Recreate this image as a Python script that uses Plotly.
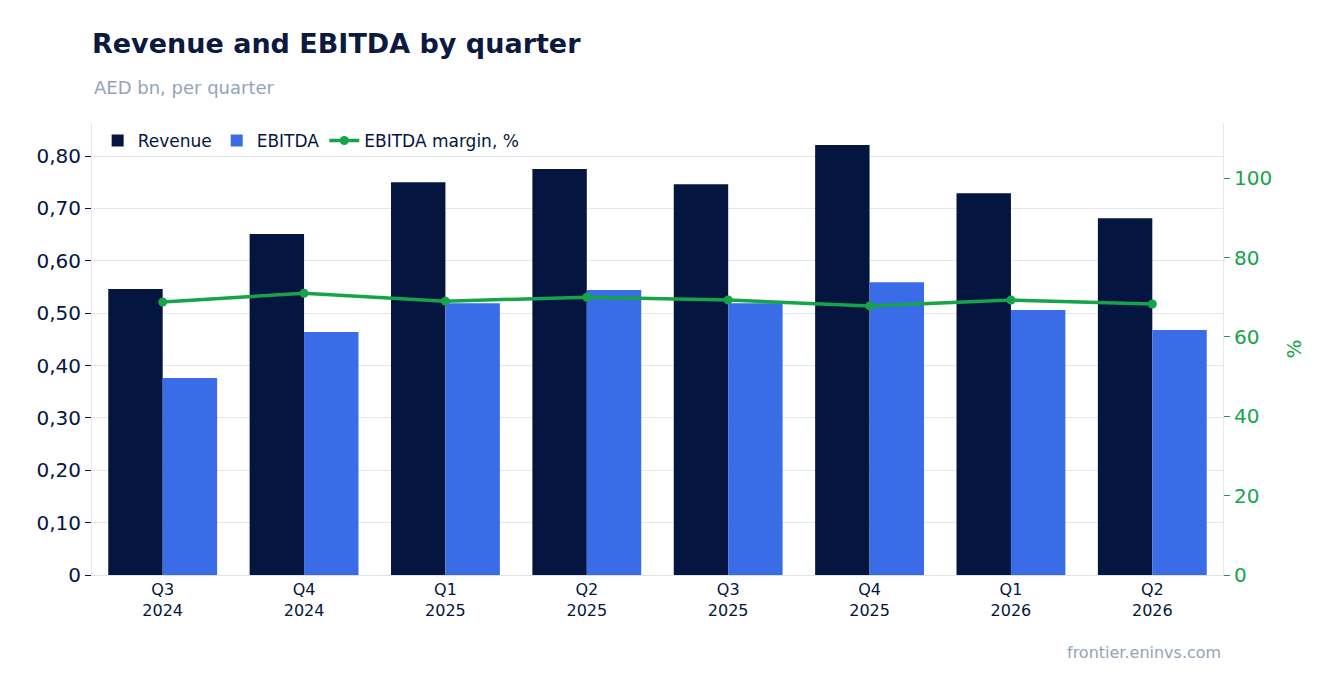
import plotly.graph_objects as go

quarters = ["Q3<br>2024","Q4<br>2024","Q1<br>2025","Q2<br>2025","Q3<br>2025","Q4<br>2025","Q1<br>2026","Q2<br>2026"]
revenue = [0.546,0.651,0.750,0.775,0.746,0.821,0.729,0.681]
ebitda = [0.376,0.464,0.519,0.544,0.519,0.559,0.506,0.468]
margin = [68.8,71.0,69.0,70.0,69.3,67.8,69.3,68.3]
ltick = [0,0.1,0.2,0.3,0.4,0.5,0.6,0.7,0.8]
ltext = ["0"] + [f"{v:.2f}".replace(".", ",") for v in ltick[1:]]

L, R, T, B = 84, 121, 115, 126
H = 693 - T - B

fig = go.Figure()
fig.add_bar(x=quarters, y=revenue, name="Revenue", marker_color="#04163f", marker_line_width=0)
fig.add_bar(x=quarters, y=ebitda, name="EBITDA", marker_color="#3a6ce8", marker_line_width=0)
fig.add_scatter(x=quarters, y=margin, name="EBITDA margin, %", yaxis="y2", mode="lines+markers",
                line=dict(color="#16a34a", width=3.5), marker=dict(size=9, color="#16a34a"))
fig.update_layout(
    width=1336, height=693, paper_bgcolor="white", plot_bgcolor="white",
    font=dict(family="DejaVu Sans", color="#04163f", size=16),
    margin=dict(l=L, r=R, t=T, b=B),
    barmode="group", bargap=0.23, bargroupgap=0,
    title=dict(text="<b>Revenue and EBITDA by quarter</b>", x=L/1336, xanchor="left",
               y=1-36/693, yanchor="middle", font=dict(size=27, color="#0c1a3f")),
    legend=dict(orientation="h", x=0.005, y=1.0, yanchor="top", xanchor="left", font=dict(size=17), bgcolor="rgba(0,0,0,0)"),
    xaxis=dict(tickfont=dict(size=16), showline=True, linecolor="#dde3ec", ticks=""),
    yaxis=dict(range=[0,0.863], tickvals=ltick, ticktext=ltext, gridcolor="#e3e8ef", ticks="outside",
               ticklen=6, tickcolor="#04163f", tickfont=dict(size=20), showline=True, linecolor="#e3e8ef", zeroline=False),
    yaxis2=dict(overlaying="y", side="right", range=[0,113.9], tickvals=[0,20,40,60,80,100], showgrid=False,
                ticks="outside", ticklen=6, tickcolor="#16a34a", tickfont=dict(size=20, color="#16a34a"),
                title=dict(text="%", font=dict(size=20, color="#16a34a")), showline=True, linecolor="#e3e8ef", zeroline=False),
    annotations=[
        dict(text="AED bn, per quarter", x=0, y=(693-B-80)/H, xref="paper", yref="paper", xanchor="left", yanchor="middle",
             showarrow=False, font=dict(size=18, color="#94a3b8")),
        dict(text="frontier.eninvs.com", x=1, y=(693-B-644)/H, xref="paper", yref="paper", xanchor="right", yanchor="middle",
             showarrow=False, font=dict(size=16, color="#94a3b8")),
    ],
)
fig.write_html("out.html")
